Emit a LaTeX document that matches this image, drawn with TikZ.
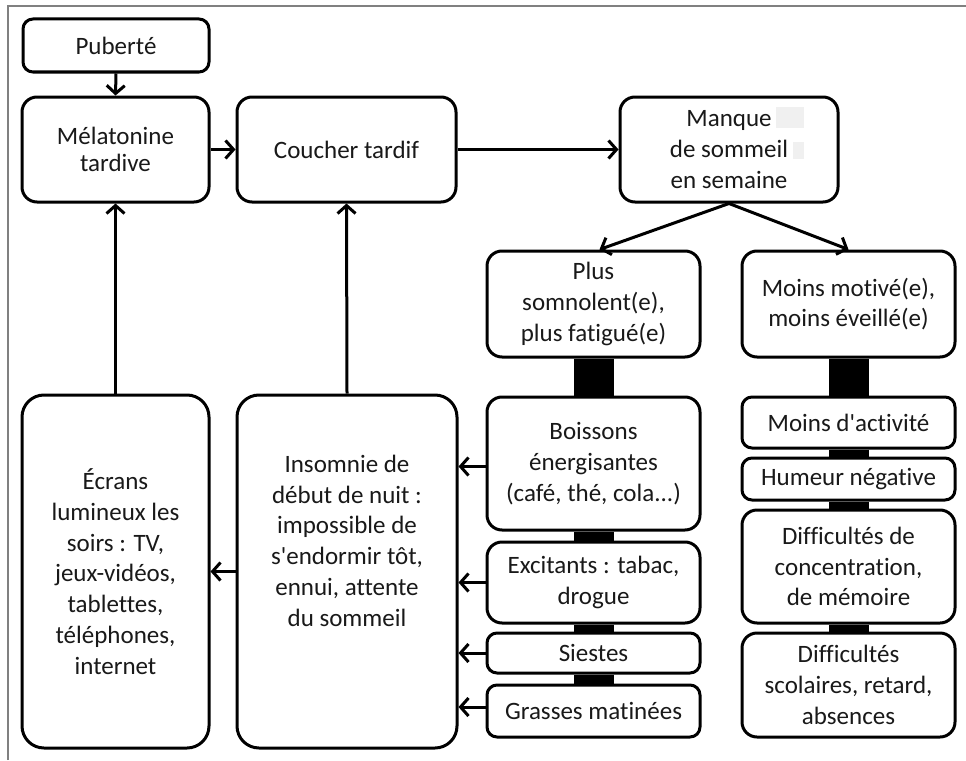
\documentclass[tikz,border=0pt]{standalone}
\usepackage{fontspec}
\setmainfont{Carlito}[Ligatures={NoCommon}]
\usetikzlibrary{arrows.meta}

\begin{document}
\begin{tikzpicture}[x=1pt,y=-1pt,
        >={Straight Barb[length=8pt,width=18pt,line width=3pt]},
        box/.style={draw, line width=3pt, rounded corners=15pt, fill=white,
            align=center, inner sep=0pt, text=black!90,
            font=\fontsize{25}{30.8}\selectfont},
        smallbox/.style={box, rounded corners=10pt},
        bigbox/.style={box, rounded corners=22pt},
        bar/.style={line width=40pt},
        link/.style={->, line width=3pt}]
        \useasboundingbox (0,0) rectangle (966,760);
        \draw[gray, line width=1.5pt] (8,760) -- (8,6) -- (966,6);

        % top row
        \node[smallbox, minimum width=186pt, minimum height=53pt] (puberte) at (116,45.5) {Puberté};
        \node[box, minimum width=187pt, minimum height=105pt,
            font=\fontsize{25}{27}\selectfont] (melatonine) at (115.5,149.5) {Mélatonine\\tardive};
        \node[box, minimum width=219pt, minimum height=105pt] (coucher) at (346.5,149.5) {Coucher tardif};
        \node[box, minimum width=218pt, minimum height=105pt] (manque) at (729,149.5) {Manque\\de sommeil\\en semaine};
        \fill[black!6] (776,107) rectangle (804,128);
        \fill[black!6] (793,142) rectangle (804,159);

        % left column
        \node[bigbox, minimum width=187pt, minimum height=353pt] (ecrans) at (115.5,571.5)
            {Écrans\\lumineux les\\soirs : TV,\\jeux-vidéos,\\tablettes,\\téléphones,\\internet};
        \node[bigbox, minimum width=220pt, minimum height=353pt] (insomnie) at (347,571.5)
            {Insomnie de\\début de nuit :\\impossible de\\s\textquotesingle endormir tôt,\\ennui, attente\\du sommeil\\ \mbox{}\\ \mbox{}};

        % middle column
        \node[box, minimum width=213pt, minimum height=106pt] (plus) at (593.5,304) {Plus\\somnolent(e),\\plus fatigué(e)};
        \node[box, minimum width=213pt, minimum height=133pt] (boissons) at (593.5,463.5) {Boissons\\énergisantes\\(café, thé, cola...)};
        \node[box, minimum width=213pt, minimum height=81pt] (excitants) at (593.5,582.5) {Excitants : tabac,\\drogue};
        \node[smallbox, minimum width=213pt, minimum height=40pt] (siestes) at (593.5,653) {Siestes};
        \node[smallbox, minimum width=213pt, minimum height=52pt] (grasses) at (593.5,711) {Grasses matinées};

        % right column
        \node[box, minimum width=213pt, minimum height=106pt] (moins) at (848.5,304) {Moins motivé(e),\\moins éveillé(e)};
        \node[smallbox, minimum width=213pt, minimum height=51pt] (activite) at (848.5,422.5) {Moins d\textquotesingle activité};
        \node[smallbox, minimum width=213pt, minimum height=42pt] (humeur) at (848.5,479) {Humeur négative};
        \node[box, minimum width=213pt, minimum height=113pt] (concentration) at (848.5,566.5) {Difficultés de\\concentration,\\de mémoire};
        \node[box, minimum width=213pt, minimum height=104pt] (scolaires) at (848.5,685) {Difficultés\\scolaires, retard,\\absences};

        % thick bars
        \draw[bar] (plus.south) -- (boissons.north);
        \draw[bar] (boissons.south) -- (excitants.north);
        \draw[bar] (excitants.south) -- (siestes.north);
        \draw[bar] (siestes.south) -- (grasses.north);
        \draw[bar] (moins.south) -- (activite.north);
        \draw[bar] (activite.south) -- (humeur.north);
        \draw[bar] (humeur.south) -- (concentration.north);
        \draw[bar] (concentration.south) -- (scolaires.north);

        % arrows
        \draw[link] (puberte.south) -- (melatonine.north);
        \draw[link] (melatonine.east) -- (coucher.west);
        \draw[link] (coucher.east) -- (manque.west);
        \draw[link] (manque.south) -- ([xshift=6pt]plus.north);
        \draw[link] (manque.south) -- (moins.north);
        \draw[link] (ecrans.north) -- (melatonine.south);
        \draw[link] (insomnie.north) -- (coucher.south);
        \draw[link] (insomnie.west) -- (ecrans.east);
        \draw[link] ([yshift=-3pt]boissons.west) -- ([yshift=-3pt]boissons.west -| insomnie.east);
        \draw[link] (excitants.west) -- (excitants.west -| insomnie.east);
        \draw[link] (siestes.west) -- (siestes.west -| insomnie.east);
        \draw[link] ([yshift=4pt]grasses.west) -- ([yshift=4pt]grasses.west -| insomnie.east);
\end{tikzpicture}
\end{document}
